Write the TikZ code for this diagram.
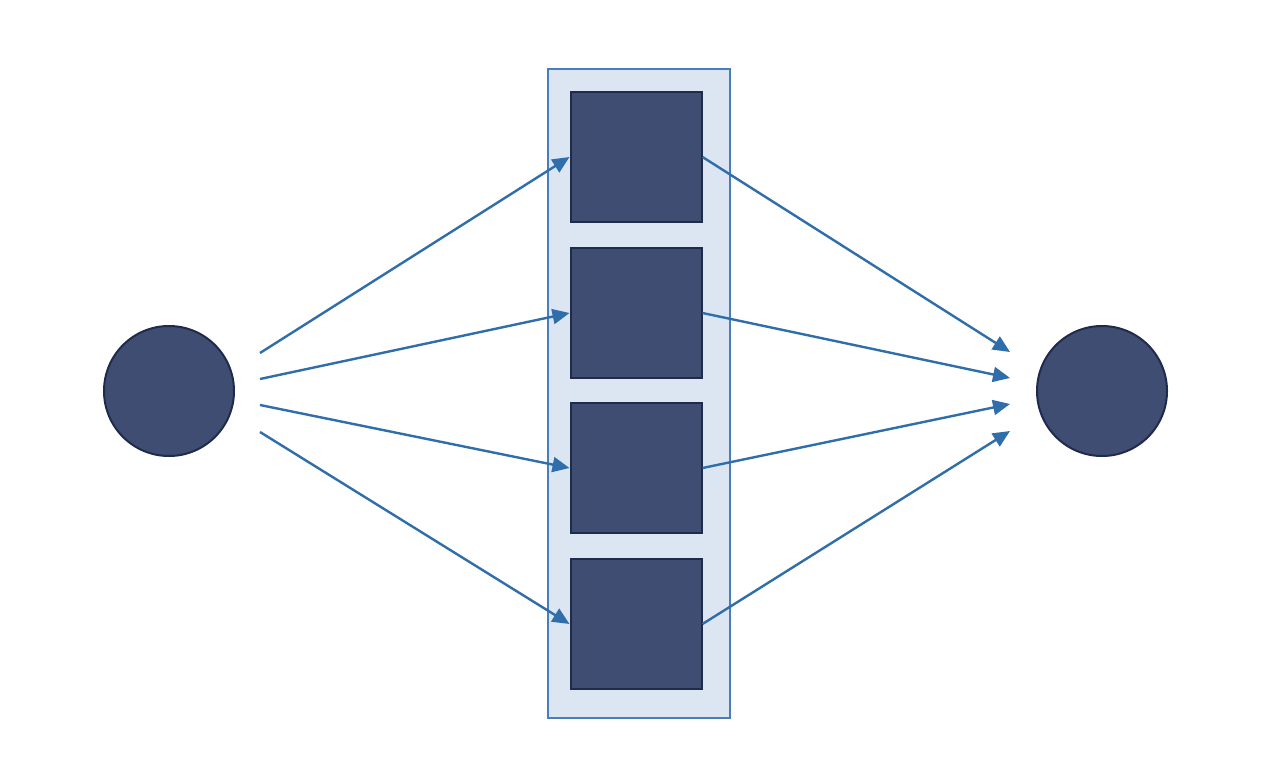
\documentclass[tikz,border=0pt]{standalone}
\usetikzlibrary{arrows.meta}
\definecolor{nodefill}{HTML}{404D73}
\definecolor{nodeedge}{HTML}{1F2B4A}
\definecolor{boxfill}{HTML}{DCE6F2}
\definecolor{boxedge}{HTML}{4A7EBB}
\definecolor{arrowcol}{HTML}{2F6EAA}
\begin{document}
\begin{tikzpicture}[x=1pt,y=-1pt,
  ball/.style={circle,fill=nodefill,draw=nodeedge,line width=2pt,minimum size=130pt,inner sep=0pt},
  sqbox/.style={rectangle,fill=nodefill,draw=nodeedge,line width=2pt,minimum width=131pt,minimum height=130pt,inner sep=0pt},
  holder/.style={rectangle,fill=boxfill,draw=boxedge,line width=2pt,minimum width=182pt,minimum height=649pt,inner sep=0pt},
  conn/.style={draw=arrowcol,line width=2.4pt,-{Triangle[length=17pt,width=15pt]}}]
\useasboundingbox (0,0) rectangle (1271,757);
\fill[white] (0,0) rectangle (1271,757);
\node[ball] (in) at (169,391) {};
\node[ball] (out) at (1102,391) {};
\node[holder] (hold) at (639,393.5) {};
\node[sqbox] (s1) at (636,157) {};
\node[sqbox] (s2) at (636,313) {};
\node[sqbox] (s3) at (636,468) {};
\node[sqbox] (s4) at (636,624) {};
\coordinate (l1) at (260,353);
\coordinate (l2) at (260,379);
\coordinate (l3) at (260,405);
\coordinate (l4) at (260,432);
\coordinate (r1) at (1010,352);
\coordinate (r2) at (1010,378);
\coordinate (r3) at (1010,404);
\coordinate (r4) at (1010,431);
\draw[conn] (l1) -- (s1.west);
\draw[conn] (l2) -- (s2.west);
\draw[conn] (l3) -- (s3.west);
\draw[conn] (l4) -- (s4.west);
\draw[conn] (s1.east) -- (r1);
\draw[conn] (s2.east) -- (r2);
\draw[conn] (s3.east) -- (r3);
\draw[conn] (s4.east) -- (r4);
\end{tikzpicture}
\end{document}
